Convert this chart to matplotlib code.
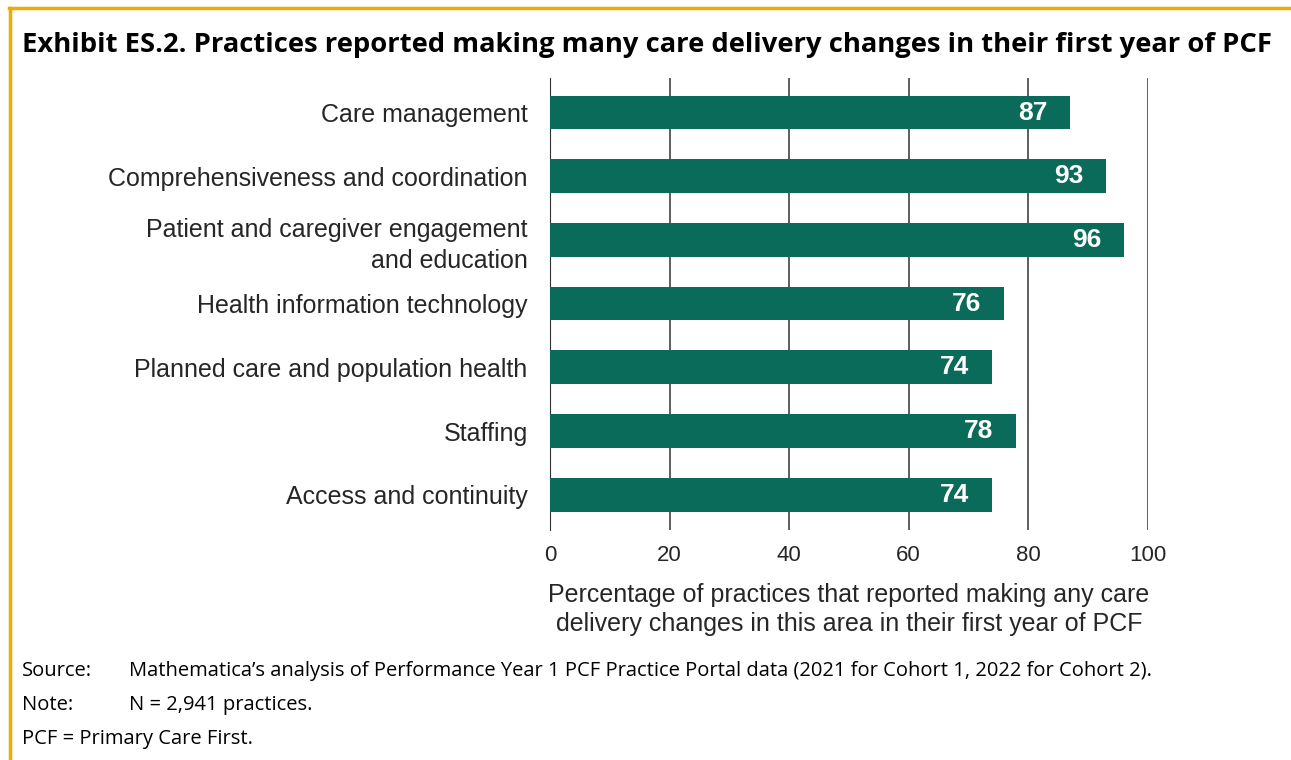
import matplotlib.pyplot as plt
import numpy as np

categories = ['Care management', 'Comprehensiveness and coordination',
              'Patient and caregiver engagement\nand education',
              'Health information technology',
              'Planned care and population health', 'Staffing',
              'Access and continuity']
values = [87, 93, 96, 76, 74, 78, 74]
xticks = [0, 20, 40, 60, 80, 100]

green = '#0b6b5a'
orange = '#f0ab00'
grey = '#262626'

fig = plt.figure(figsize=(12.91, 7.6), dpi=100)

# orange frame, top and left only
fig.add_artist(plt.Line2D([0.007, 1.0], [0.989, 0.989], color=orange, lw=2.5))
fig.add_artist(plt.Line2D([0.0075, 0.0075], [0.0, 0.989], color=orange, lw=2.5))

fig.text(0.017, 0.941, 'Exhibit ES.2. Practices reported making many care delivery changes in their first year of PCF',
         fontsize=19.7, fontweight='bold', family='Open Sans', va='center', ha='left')

ax = fig.add_axes([0.426, 0.303, 0.463, 0.595])
y = np.arange(len(categories))
ax.barh(y, values, height=0.53, color=green, zorder=3)
for yi, v in zip(y, values):
    ax.text(v - 3.8, yi, str(v), color='white', fontweight='bold', fontsize=19,
            family='Liberation Sans', ha='right', va='center', zorder=4)

ax.set_xlim(0, 100)
ax.set_ylim(6.55, -0.55)
ax.set_yticks(y)
ax.set_yticklabels(categories, fontsize=18, family='Liberation Sans', color=grey,
                   linespacing=1.35)
ax.set_xticks(xticks)
ax.set_xticklabels([str(t) for t in xticks], fontsize=16, family='Liberation Sans', color=grey)
ax.tick_params(axis='y', length=0, pad=16)
ax.tick_params(axis='x', length=0, pad=11)
for s in ['top', 'right', 'bottom']:
    ax.spines[s].set_visible(False)
ax.spines['left'].set_color('#333333')
ax.xaxis.grid(True, color='#333333', lw=1.1, zorder=0)
ax.set_axisbelow(True)
ax.set_xlabel('Percentage of practices that reported making any care\ndelivery changes in this area in their first year of PCF',
              fontsize=18, family='Liberation Sans', color=grey, labelpad=12, linespacing=1.3)

foot = dict(fontsize=14.5, family='Open Sans', va='center', ha='left')
fig.text(0.017, 0.117, 'Source:', **foot)
fig.text(0.1, 0.117, 'Mathematica\u2019s analysis of Performance Year 1 PCF Practice Portal data (2021 for Cohort 1, 2022 for Cohort 2).', **foot)
fig.text(0.017, 0.073, 'Note:', **foot)
fig.text(0.1, 0.073, 'N = 2,941 practices.', **foot)
fig.text(0.017, 0.027, 'PCF = Primary Care First.', **foot)

fig.savefig('out.png', dpi=100)
